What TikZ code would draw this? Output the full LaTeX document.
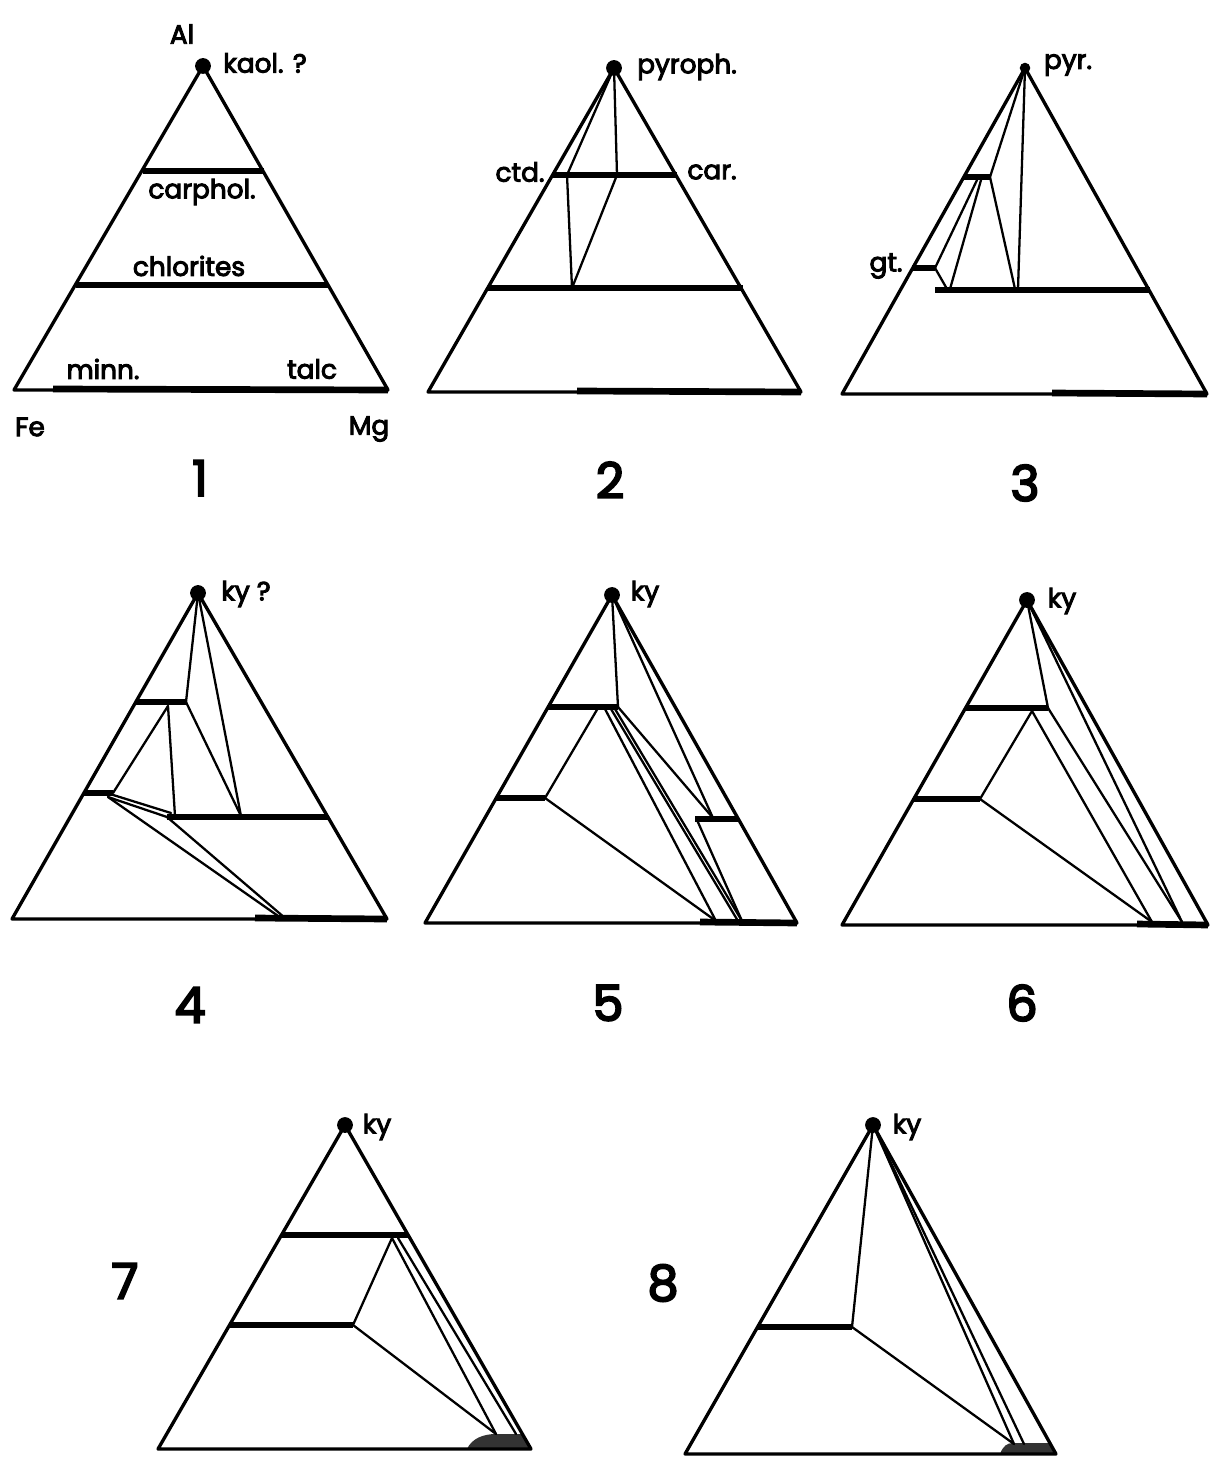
\documentclass[tikz,border=0pt]{standalone}
\usepackage{fontspec}
\setmainfont{Poppins}
\newcommand\heavytxt[2]{\special{pdf:literal direct 2 Tr #1 w}#2\special{pdf:literal direct 0 Tr}}
\begin{document}
\begin{tikzpicture}[x=0.02cm,y=-0.02cm,
  edge/.style={line width=1.9pt,line join=round,line cap=round},
  tie/.style={line width=1.3pt,line cap=round},
  bar/.style={line width=3.8pt},
  lab/.style={font=\fontsize{15}{18}\selectfont,inner sep=0pt,execute at begin node={\special{pdf:literal direct 2 Tr 0.55 w}},execute at end node={\special{pdf:literal direct 0 Tr}}},
  num/.style={font=\fontsize{28}{32}\selectfont,inner sep=0pt,execute at begin node={\special{pdf:literal direct 2 Tr 1.1 w}},execute at end node={\special{pdf:literal direct 0 Tr}}},
  apexdot/.style={circle,fill=black,inner sep=0pt,minimum size=9pt}]
\path[use as bounding box,fill=white] (0,0) rectangle (1210,1459);

% ---------- Triangle 1 ----------
\coordinate (A1) at (203,66); \coordinate (L1) at (14,390); \coordinate (R1) at (388,390);
\draw[edge] (A1)--(L1)--(R1)--cycle;
\coordinate (c1a) at (143,171); \coordinate (c1b) at (264,171);
\coordinate (h1a) at (76,285); \coordinate (h1b) at (328,285);
\coordinate (b1a) at (53,389);
\draw[bar] (c1a)--(c1b);
\draw[bar] (h1a)--(h1b);
\draw[bar] (b1a)--(R1);
\node[apexdot] (d1) at (A1) {};
\node[lab] (al) at (182,34) {Al};
\node[lab] (kaol) at (265,63) {kaol. ?};
\node[lab] (carphol) at (202,192) {carphol.};
\node[lab] (chlor) at (189,266) {chlorites};
\node[lab] (minn) at (103,369) {minn.};
\node[lab] (talc) at (312,369) {talc};
\node[lab] (fe) at (30,427) {Fe};
\node[lab] (mg) at (369,429) {Mg};
\node[num] (n1) at (200,478) {1};

% ---------- Triangle 2 ----------
\coordinate (A2) at (614,68); \coordinate (L2) at (428,392); \coordinate (R2) at (801,392);
\draw[edge] (A2)--(L2)--(R2)--cycle;
\coordinate (u2a) at (553,175); \coordinate (u2b) at (677,175);
\coordinate (h2a) at (488,288); \coordinate (h2b) at (743,288);
\coordinate (b2a) at (577,391);
\draw[bar] (u2a)--(u2b);
\draw[bar] (h2a)--(h2b);
\draw[bar] (b2a)--(R2);
\coordinate (P2a) at (567,175); \coordinate (P2b) at (617,175); \coordinate (P2c) at (572,288);
\draw[tie] (A2)--(P2a)--(P2c);
\draw[tie] (A2)--(P2b)--(P2c);
\node[apexdot] (d2) at (A2) {};
\node[lab] (pyroph) at (687,67) {pyroph.};
\node[lab] (ctd) at (520,172) {ctd.};
\node[lab] (car) at (712,172) {car.};
\node[num] (n2) at (610,480) {2};

% ---------- Triangle 3 ----------
\coordinate (A3) at (1025,68); \coordinate (L3) at (842,394); \coordinate (R3) at (1207,394);
\draw[edge] (A3)--(L3)--(R3)--cycle;
\coordinate (u3a) at (964,177); \coordinate (u3b) at (990,177);
\coordinate (g3a) at (912,268); \coordinate (g3b) at (935,268);
\coordinate (h3a) at (935,290); \coordinate (h3b) at (1150,290);
\coordinate (b3a) at (1052,393);
\draw[bar] (u3a)--(u3b);
\draw[bar] (g3a)--(g3b);
\draw[bar] (h3a)--(h3b);
\draw[bar] (b3a)--(R3);
\coordinate (q3a) at (947,289); \coordinate (q3b) at (977,180);
\coordinate (q3c) at (950,289); \coordinate (q3d) at (981,180);
\coordinate (q3e) at (1015,289); \coordinate (q3f) at (1018,289);
\draw[tie] (g3b)--(q3a);
\draw[tie] (g3b)--(q3b);
\draw[tie] (q3c)--(q3d);
\draw[tie] (u3b)--(q3e);
\draw[tie] (A3)--(q3f);
\draw[tie] (A3)--(u3b);
\node[apexdot,minimum size=6pt] (d3) at (A3) {};
\node[lab] (pyr) at (1068,65) {pyr.};
\node[lab] (gt) at (886,266) {gt.};
\node[num] (n3) at (1025,483) {3};

% ---------- Triangle 4 ----------
\coordinate (A4) at (198,593); \coordinate (L4) at (12,919); \coordinate (R4) at (387,919);
\draw[edge] (A4)--(L4)--(R4)--cycle;
\coordinate (u4a) at (136,702); \coordinate (u4b) at (186,702);
\coordinate (m4a) at (84,793); \coordinate (m4b) at (113,793);
\coordinate (h4a) at (167,817); \coordinate (h4b) at (328,817);
\coordinate (b4a) at (255,918);
\draw[bar] (u4a)--(u4b);
\draw[bar] (m4a)--(m4b);
\draw[bar] (h4a)--(h4b);
\draw[bar] (b4a)--(R4);
\coordinate (q4a) at (241,816); \coordinate (q4b) at (168,706);
\coordinate (q4c) at (175,816); \coordinate (q4d) at (110,794);
\coordinate (q4e) at (171,813); \coordinate (q4f) at (108,797);
\coordinate (q4g) at (281,918); \coordinate (q4h) at (285,918);
\draw[tie] (A4)--(u4b);
\draw[tie] (A4)--(q4a);
\draw[tie] (u4b)--(q4a);
\draw[tie] (q4b)--(q4c);
\draw[tie] (q4b)--(m4b);
\draw[tie] (q4d)--(q4e);
\draw[tie] (q4f)--(h4a);
\draw[tie] (q4f)--(q4g);
\draw[tie] (h4a)--(q4h);
\node[apexdot] (d4) at (A4) {};
\node[lab] (ky4) at (246,594) {ky ?};
\node[num] (n4) at (190,1005) {4};

% ---------- Triangle 5 ----------
\coordinate (A5) at (612,595); \coordinate (L5) at (425,923); \coordinate (R5) at (797,923);
\draw[edge] (A5)--(L5)--(R5)--cycle;
\coordinate (u5a) at (548,707); \coordinate (u5b) at (618,707);
\coordinate (m5a) at (496,798); \coordinate (m5b) at (545,798);
\coordinate (r5a) at (695,819); \coordinate (r5b) at (738,819);
\coordinate (b5a) at (700,922);
\draw[bar] (u5a)--(u5b);
\draw[bar] (m5a)--(m5b);
\draw[bar] (r5a)--(r5b);
\draw[bar] (b5a)--(R5);
\coordinate (q5a) at (713,818); \coordinate (q5b) at (605,709);
\coordinate (q5c) at (716,921); \coordinate (q5d) at (611,709);
\coordinate (q5e) at (738,921); \coordinate (q5f) at (615,709);
\coordinate (q5g) at (742,921); \coordinate (q5h) at (697,820);
\coordinate (q5i) at (598,708);
\draw[tie] (A5)--(u5b);
\draw[tie] (A5)--(q5a);
\draw[tie] (u5b)--(q5a);
\draw[tie] (q5b)--(q5c);
\draw[tie] (q5d)--(q5e);
\draw[tie] (q5f)--(q5g);
\draw[tie] (q5h)--(q5g);
\draw[tie] (m5b)--(q5c);
\draw[tie] (q5i)--(m5b);
\node[apexdot] (d5) at (A5) {};
\node[lab] (ky5) at (645,594) {ky};
\node[num] (n5) at (608,1003) {5};

% ---------- Triangle 6 ----------
\coordinate (A6) at (1027,600); \coordinate (L6) at (842,925); \coordinate (R6) at (1208,925);
\draw[edge] (A6)--(L6)--(R6)--cycle;
\coordinate (u6a) at (966,708); \coordinate (u6b) at (1048,708);
\coordinate (m6a) at (914,799); \coordinate (m6b) at (980,799);
\coordinate (b6a) at (1137,924);
\draw[bar] (u6a)--(u6b);
\draw[bar] (m6a)--(m6b);
\draw[bar] (b6a)--(R6);
\coordinate (q6a) at (1032,711); \coordinate (q6b) at (1152,922);
\coordinate (q6c) at (1182,922);
\draw[tie] (A6)--(u6b);
\draw[tie] (q6a)--(m6b);
\draw[tie] (q6a)--(q6b);
\draw[tie] (u6b)--(q6c);
\draw[tie] (A6)--(q6c);
\draw[tie] (m6b)--(q6b);
\node[apexdot] (d6) at (A6) {};
\node[lab] (ky6) at (1062,601) {ky};
\node[num] (n6) at (1022,1003) {6};

% ---------- Triangle 7 ----------
\coordinate (A7) at (345,1125); \coordinate (L7) at (158,1449); \coordinate (R7) at (531,1449);
\coordinate (s7a) at (467,1449); \coordinate (s7b) at (496,1434); \coordinate (s7c) at (521,1434);
\fill[black!80] (s7a) .. controls (472,1438) and (484,1434) .. (s7b) -- (s7c) -- (R7) -- cycle;
\draw[edge] (A7)--(L7)--(R7)--cycle;
\coordinate (u7a) at (281,1235); \coordinate (u7b) at (408,1235);
\coordinate (m7a) at (230,1325); \coordinate (m7b) at (353,1325);
\draw[bar] (u7a)--(u7b);
\draw[bar] (m7a)--(m7b);
\coordinate (q7a) at (392,1238); \coordinate (q7b) at (398,1238);
\coordinate (q7c) at (516,1434);
\draw[tie] (q7a)--(m7b);
\draw[tie] (q7a)--(s7b);
\draw[tie] (q7b)--(q7c);
\draw[tie] (m7b)--(s7b);
\node[apexdot] (d7) at (A7) {};
\node[lab] (ky7) at (377,1127) {ky};
\node[num] (n7) at (125,1281) {7};

% ---------- Triangle 8 ----------
\coordinate (A8) at (873,1125); \coordinate (L8) at (685,1454); \coordinate (R8) at (1056,1454);
\coordinate (s8a) at (1000,1454); \coordinate (s8b) at (1013,1443); \coordinate (s8c) at (1049,1443);
\fill[black!80] (s8a) .. controls (1003,1446) and (1007,1443) .. (s8b) -- (s8c) -- (R8) -- cycle;
\draw[edge] (A8)--(L8)--(R8)--cycle;
\coordinate (m8a) at (758,1327); \coordinate (m8b) at (852,1327);
\draw[bar] (m8a)--(m8b);
\coordinate (q8a) at (1014,1444); \coordinate (q8b) at (1024,1444);
\draw[tie] (A8)--(m8b);
\draw[tie] (m8b)--(q8a);
\draw[tie] (A8)--(q8a);
\draw[tie] (A8)--(q8b);
\node[apexdot] (d8) at (A8) {};
\node[lab] (ky8) at (907,1127) {ky};
\node[num] (n8) at (663,1283) {8};
\end{tikzpicture}
\end{document}
